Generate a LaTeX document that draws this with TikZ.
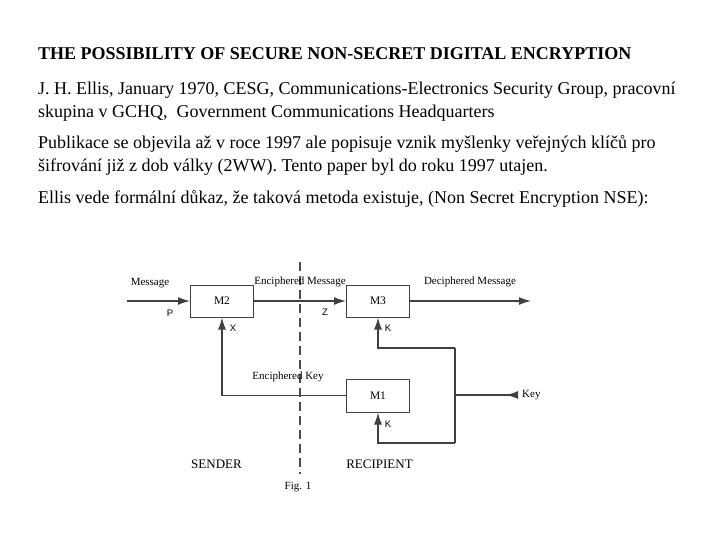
\documentclass[tikz,border=0pt]{standalone}
\usepackage{fontspec}
\setmainfont{Liberation Serif}
\newfontfamily\letterfont{Liberation Sans}
\usetikzlibrary{arrows.meta}

\tikzset{
  body/.style={anchor=west, inner sep=0, align=left, font=\fontsize{18}{23}\selectfont},
  mbox/.style={rectangle, draw=black!75, line width=1pt, minimum width=63pt, minimum height=32pt, inner sep=0, font=\fontsize{11.5}{13}\selectfont},
  lbl/.style={inner sep=0, font=\fontsize{11}{12}\selectfont},
  sig/.style={inner sep=0, font=\letterfont\fontsize{9.5}{10}\selectfont},
  side/.style={inner sep=0, font=\fontsize{13}{14}\selectfont},
  wire/.style={line width=1.3pt, draw=black!75},
}

\begin{document}
\begin{tikzpicture}[x=1pt, y=-1pt, >={Latex[length=12pt,width=8pt]}]
    \useasboundingbox (0,0) rectangle (720,540);

    % Text above the figure
    \node (title) [body, font=\fontsize{18}{23}\selectfont\bfseries] at (38,54) {THE POSSIBILITY OF SECURE NON-SECRET DIGITAL ENCRYPTION};
    \node (ellis) [body] at (38,101.5) {J. H. Ellis, January 1970, CESG, Communications-Electronics Security Group, pracovní\\skupina v GCHQ,~ Government Communications Headquarters};
    \node (publ) [body] at (38,155.5) {Publikace se objevila až v roce 1997 ale popisuje vznik myšlenky veřejných klíčů pro\\šifrování již z dob války (2WW). Tento paper byl do roku 1997 utajen.};
    \node (nse) [body] at (38,199) {Ellis vede formální důkaz, že taková metoda existuje, (Non Secret Encryption NSE):};

    % Nodes
    \node (m2) [mbox] at (222,301) {M2};
    \node (m3) [mbox] at (378,301) {M3};
    \node (m1) [mbox, minimum height=33pt] at (378,395.5) {M1};

    \coordinate (msgin) at (127,301);
    \coordinate (msgout) at (531,301);
    \coordinate (keyj1) at (455,348);
    \coordinate (keyj2) at (455,443);
    \coordinate (keyj) at (455,395);
    \coordinate (keyin) at (518,395);
    \coordinate (divtop) at (300,262);
    \coordinate (divbot) at (300,474);

    \node (key) [lbl, anchor=west] at (522,395) {Key};

    % Connections
    \draw [wire, ->] (msgin) -- (m2);
    \draw [wire, ->] (m2) -- (m3);
    \draw [wire, ->] (m3) -- (msgout);
    \draw [wire, ->] (m1) -| (m2);
    \draw [wire] (keyj1) -- (keyj2);
    \draw [wire, ->] (keyj1) -| (m3);
    \draw [wire, ->] (keyj2) -| (m1);
    \draw [wire] (keyin) -- (keyj);
    \draw [wire, ->] (keyin) -- ++(-12,0);
    \draw [line width=1.2pt, draw=black!70, dash pattern=on 9pt off 5pt] (divtop) -- (divbot);

    % Labels
    \node (lmsg) [lbl] at (150,283) {Message};
    \node (lenc) [lbl] at (300,282) {Enciphered Message};
    \node (ldec) [lbl] at (470,282) {Deciphered Message};
    \node (lkey) [lbl] at (288,377) {Enciphered Key};
    \node (lp) [sig] at (170,313) {P};
    \node (lz) [sig] at (325,312) {Z};
    \node (lx) [sig] at (233,328) {X};
    \node (lk3) [sig] at (388,328) {K};
    \node (lk1) [sig] at (388,424) {K};
    \node (sender) [side] at (216.5,464) {SENDER};
    \node (recip) [side] at (379.5,464) {RECIPIENT};
    \node (fig) [lbl] at (298,487) {Fig. 1};
\end{tikzpicture}
\end{document}
